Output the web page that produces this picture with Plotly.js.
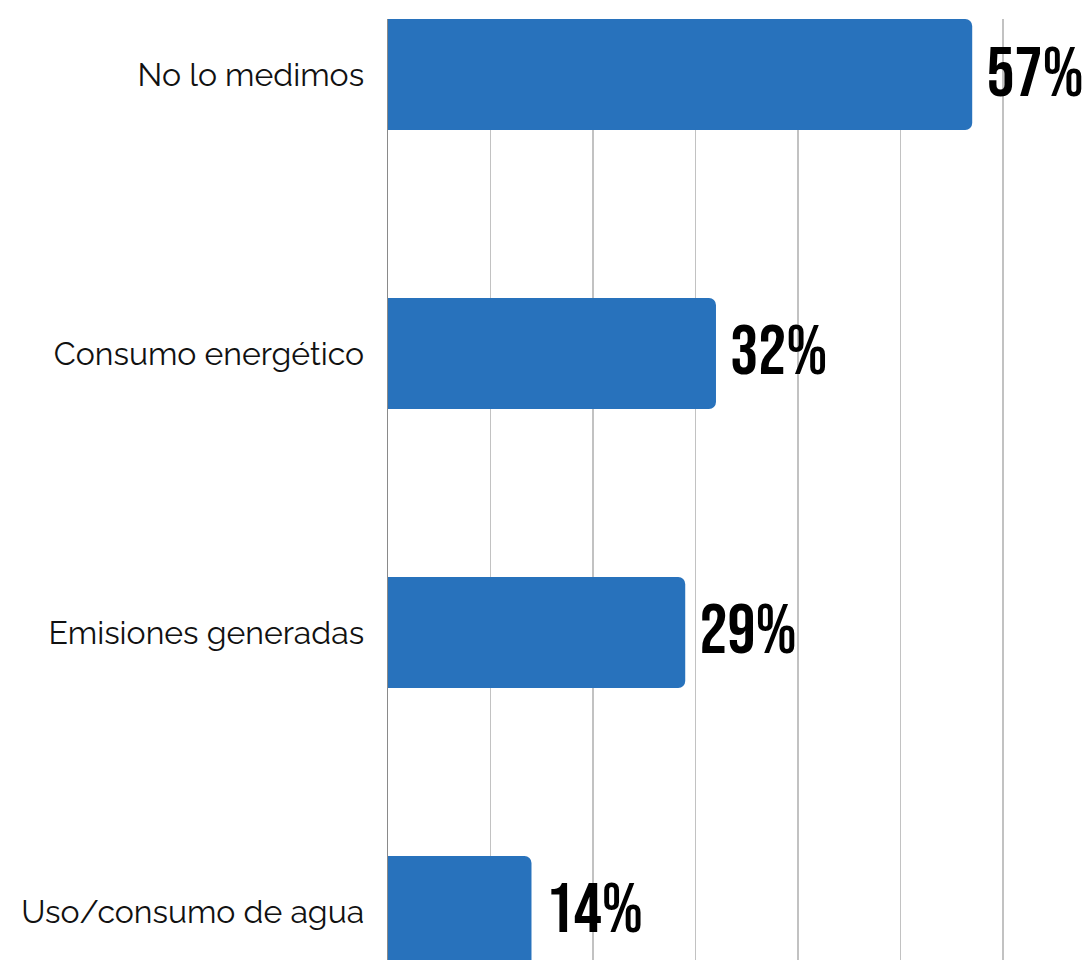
<!DOCTYPE html>
<html>
<head>
<meta charset="utf-8">
<script src="https://cdn.plot.ly/plotly-3.0.1.min.js"></script>
<style>html,body{margin:0;padding:0;background:#fff;}#chart{width:1087px;height:960px;}</style>
</head>
<body>
<div id="chart"></div>
<script>
const categories = ["No lo medimos", "Consumo energético", "Emisiones generadas", "Uso/consumo de agua"];
const values = [57, 32, 29, 14];
const valueLabels = ["57%", "32%", "29%", "14%"];

const trace = {
  type: 'bar',
  orientation: 'h',
  y: categories,
  x: values,
  text: valueLabels.map(t => ' ' + t),
  texttemplate: '%{text}',
  textposition: 'outside',
  constraintext: 'none',
  cliponaxis: false,
  textfont: {family: '"Bebas Neue", Oswald, sans-serif', size: 70, color: '#000'},
  marker: {color: '#2872BC', cornerradius: 7},
  width: 0.398,
  hoverinfo: 'none'
};

const layout = {
  width: 1087,
  height: 960,
  margin: {l: 388, r: 0, t: 19, b: 0, pad: 0},
  paper_bgcolor: '#fff',
  plot_bgcolor: '#fff',
  showlegend: false,
  xaxis: {
    range: [0, 68.2],
    dtick: 10,
    tick0: 0,
    showgrid: true,
    gridcolor: '#c2c2c2',
    gridwidth: 1.5,
    zeroline: false,
    showticklabels: false,
    ticks: '',
    fixedrange: true
  },
  yaxis: {
    type: 'category',
    range: [3.174, -0.199],
    autorange: false,
    showline: true,
    linecolor: '#8a8a8a',
    linewidth: 1.5,
    showgrid: false,
    zeroline: false,
    ticks: '',
    ticklabelstandoff: 16,
    tickfont: {family: 'Raleway, Lato, sans-serif', size: 32, color: '#111'},
    fixedrange: true
  }
};

Plotly.newPlot('chart', [trace], layout, {displayModeBar: false, staticPlot: true});
</script>
</body>
</html>
